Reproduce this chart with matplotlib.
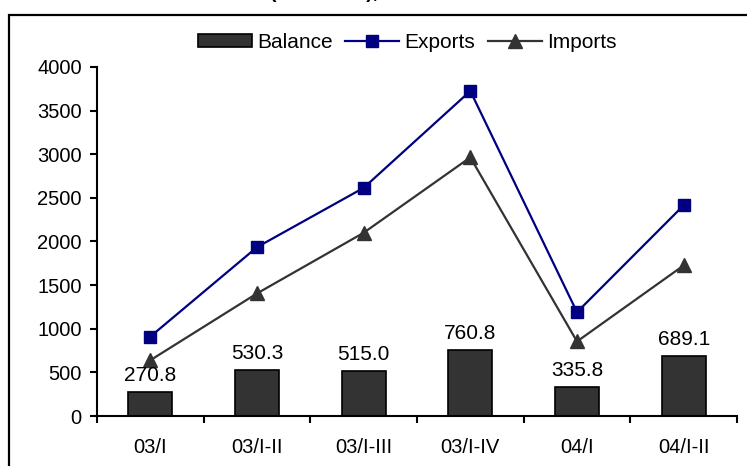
import matplotlib.pyplot as plt
import numpy as np
from matplotlib.patches import Rectangle

periods = ["03/I", "03/I-II", "03/I-III", "03/I-IV", "04/I", "04/I-II"]
exports = [910, 1935, 2615, 3725, 1190, 2415]
imports = [639.2, 1404.7, 2100.0, 2964.2, 854.2, 1725.9]
balance = [270.8, 530.3, 515.0, 760.8, 335.8, 689.1]

plt.rcParams["font.family"] = ["Liberation Sans", "DejaVu Sans"]

fig = plt.figure(figsize=(7.47, 4.66), dpi=100)
ax = fig.add_axes([97 / 747, 50 / 466, 640 / 747, 349 / 466])

x = np.arange(len(periods))
bars = ax.bar(x, balance, width=0.41, color="#333333", edgecolor="black",
              linewidth=1.2, label="Balance", zorder=2)
ln_exp, = ax.plot(x, exports, color="#000080", lw=1.6, marker="s", ms=8,
                  label="Exports", zorder=3)
ln_imp, = ax.plot(x, imports, color="#333333", lw=1.6, marker="^", ms=10,
                  label="Imports", zorder=3)

for xi, v in zip(x, balance):
    ax.annotate(f"{v:.1f}", (xi, v), xytext=(0, 5), textcoords="offset points",
                ha="center", va="bottom", fontsize=15)

ax.set_xlim(-0.5, len(periods) - 0.5)
ax.set_ylim(0, 4000)
ax.set_yticks(np.arange(0, 4001, 500))
ax.set_xticks(x)
ax.set_xticklabels(periods)
ax.set_xticks(np.arange(-0.5, len(periods)), minor=True)
ax.tick_params(axis="x", which="major", length=0, pad=16, labelsize=14.5)
ax.tick_params(axis="x", which="minor", length=5, width=1.5, direction="out")
ax.tick_params(axis="y", length=5, width=1.5, direction="out", labelsize=14.5,
               pad=6)
for side in ("top", "right"):
    ax.spines[side].set_visible(False)
for side in ("left", "bottom"):
    ax.spines[side].set_linewidth(1.5)

ax.legend([bars, ln_exp, ln_imp], ["Balance", "Exports", "Imports"],
          loc="center", bbox_to_anchor=(407 / 747, 1 - 42 / 466),
          bbox_transform=fig.transFigure, ncol=3, frameon=False,
          fontsize=15, handlelength=2.6, handleheight=0.6, handletextpad=0.25,
          columnspacing=0.6, borderaxespad=0, borderpad=0)

# outer frame and the last line of the title, running off the top edge
fig.patches.append(Rectangle((9 / 747, -0.1), 1.2, 1.1 - 15 / 466,
                             transform=fig.transFigure, fill=False,
                             edgecolor="black", linewidth=1.6))
fig.text(373 / 747, 1 + 2.5 / 466, "(USD 1000), 2003-2004", ha="center",
         va="baseline", fontsize=14, fontweight="bold")

fig.savefig("out.png", dpi=100, facecolor="white")
